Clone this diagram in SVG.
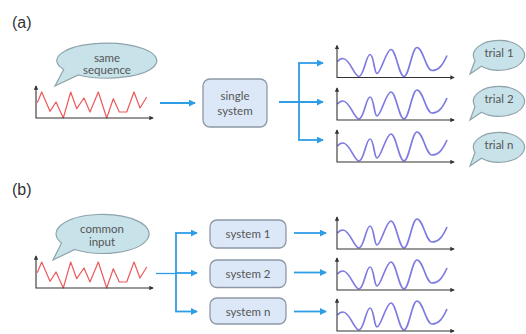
<svg xmlns="http://www.w3.org/2000/svg" xmlns:xlink="http://www.w3.org/1999/xlink" width="526" height="334" viewBox="0 0 526 334">
<style>
.lbl{font-family:"Liberation Sans",Arial,sans-serif;font-size:16px;fill:#333}
.t{font-family:Lato,"Open Sans",sans-serif;font-size:11.5px;fill:#555;text-anchor:middle}
.bub{fill:#c7e2e9;stroke:#8fa3aa;stroke-width:1.2}
.box{fill:#dce8f8;stroke:#8d98a6;stroke-width:1.3}
.ax{fill:none;stroke:#333;stroke-width:1.1;marker-start:url(#ah);marker-end:url(#ah)}
.red{fill:none;stroke:#ec5a5c;stroke-width:1.2;stroke-linejoin:round}
.wave{fill:none;stroke:#7d7be0;stroke-width:1.7}
.con{fill:none;stroke:#2f9ce6;stroke-width:1.8}
.arr{marker-end:url(#bh)}
</style>
<defs>
<marker id="ah" viewBox="0 0 6 6" refX="5" refY="3" markerWidth="4" markerHeight="4" orient="auto-start-reverse"><path d="M0,0 L6,3 L0,6 Z" fill="#333"/></marker>
<marker id="bh" viewBox="0 0 8 8" refX="7" refY="4" markerWidth="7" markerHeight="7" markerUnits="userSpaceOnUse" orient="auto"><path d="M0,0 L8,4 L0,8 Z" fill="#2f9ce6"/></marker>
<path id="axes" class="ax" d="M0,-32 V0 H117"/>
<polyline id="zig" class="red" points="1.3,-15.3 5.7,-26 14,-6.7 20,-16 27.3,0 34.7,-26 40.7,-9.3 48,-20 54,-6 62.3,-26 70.7,0 77.3,-19.3 83.3,-6 90.7,-6 98,-26 104,-10 110.7,-21"/>
<path id="wv" class="wave" d="M0.5,-16 C2,-18 4,-19 6,-19 C13,-19 17,-1 22,-1 C27,-1 29,-23 33,-23 C37,-23 37,-4 40,-4 C44,-4 49,-28 54,-28 C59,-28 62,-1 67,-1 C72,-1 75,-30 80,-30 C86,-30 89,-7 95,-7 C102,-7 106,-13 110,-22"/>
</defs>

<text class="lbl" x="12" y="28">(a)</text>
<text class="lbl" x="12" y="195">(b)</text>

<g id="a-input">
<use xlink:href="#zig" transform="translate(36,118)"/>
<use xlink:href="#axes" transform="translate(36,118)"/>
</g>
<g id="a-bubble">
<path class="bub" d="M78.3,75 A50,17.5 0 1 0 63.7,69.5 L55,86 Z"/>
<text class="t" x="107" y="61.5">same</text>
<text class="t" x="107" y="73.5">sequence</text>
</g>
<g id="single-system">
<rect class="box" x="203" y="79" width="64" height="48" rx="7"/>
<text class="t" x="235" y="100">single</text>
<text class="t" x="235" y="115">system</text>
</g>
<g id="a-out1"><use xlink:href="#wv" transform="translate(337,77.5)"/><use xlink:href="#axes" transform="translate(337,77.5)"/></g>
<g id="a-out2"><use xlink:href="#wv" transform="translate(337,120)"/><use xlink:href="#axes" transform="translate(337,120)"/></g>
<g id="a-out3"><use xlink:href="#wv" transform="translate(337,162)"/><use xlink:href="#axes" transform="translate(337,162)"/></g>
<g id="trial1">
<path class="bub" d="M481.5,66.3 A25.5,15 0 1 0 475,60.5 L470,74 Z"/>
<text class="t" x="499" y="57">trial 1</text>
</g>
<g id="trial2">
<path class="bub" d="M481.5,112.3 A25.5,15 0 1 0 475,106.5 L470,120 Z"/>
<text class="t" x="499" y="103">trial 2</text>
</g>
<g id="trialn">
<path class="bub" d="M481.5,158.3 A25.5,15 0 1 0 475,152.5 L470,166 Z"/>
<text class="t" x="499" y="149">trial n</text>
</g>

<g id="b-input">
<use xlink:href="#zig" transform="translate(36,288)"/>
<use xlink:href="#axes" transform="translate(36,288)"/>
</g>
<g id="b-bubble">
<path class="bub" d="M74.8,249.5 A46.5,19.5 0 1 0 61.5,243 L53,260 Z"/>
<text class="t" x="102" y="233">common</text>
<text class="t" x="102" y="245.5">input</text>
</g>
<g id="system1"><rect class="box" x="210" y="220" width="76" height="28" rx="7"/><text class="t" x="248" y="238">system 1</text></g>
<g id="system2"><rect class="box" x="210" y="260" width="76" height="27.5" rx="7"/><text class="t" x="248" y="278">system 2</text></g>
<g id="systemn"><rect class="box" x="210" y="298" width="76" height="26" rx="7"/><text class="t" x="248" y="315.5">system n</text></g>
<g id="b-out1"><use xlink:href="#wv" transform="translate(337,249)"/><use xlink:href="#axes" transform="translate(337,249)"/></g>
<g id="b-out2"><use xlink:href="#wv" transform="translate(337,290)"/><use xlink:href="#axes" transform="translate(337,290)"/></g>
<g id="b-out3"><use xlink:href="#wv" transform="translate(337,331)"/><use xlink:href="#axes" transform="translate(337,331)"/></g>

<g id="connectors">
<path class="con arr" d="M160,103 H195"/>
<path class="con arr" d="M279,102 H323"/>
<path class="con" d="M299,63 V140"/>
<path class="con arr" d="M298.1,63 H323"/>
<path class="con arr" d="M298.1,140 H323"/>
<path class="con" style="stroke-width:1.3" d="M156,273.5 H176"/>
<path class="con" d="M176,233 V311.5"/>
<path class="con arr" d="M175.1,233 H197"/>
<path class="con arr" d="M176,273 H197"/>
<path class="con arr" d="M175.1,311.5 H197"/>
<path class="con arr" d="M294,233 H326"/>
<path class="con arr" d="M294,272.5 H326"/>
<path class="con arr" d="M294,311.5 H326"/>
</g>
</svg>
